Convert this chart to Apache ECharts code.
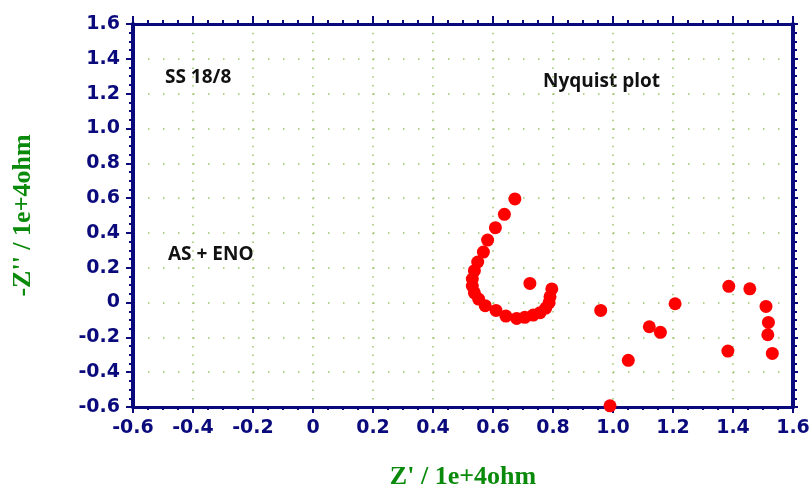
<!DOCTYPE html>
<html>
<head>
<meta charset="utf-8">
<script src="https://cdn.jsdelivr.net/npm/echarts@6/dist/echarts.min.js"></script>
<style>
  html, body { margin: 0; padding: 0; background: #fff; }
  #chart { width: 812px; height: 487px; }
</style>
</head>
<body>
<div id="chart"></div>
<script>
// impedance points, Z' and -Z'' in 1e+4 ohm
var zReal = [0.673, 0.638, 0.608, 0.582, 0.568, 0.549, 0.538, 0.531, 0.531, 0.538,
  0.552, 0.574, 0.61, 0.643, 0.679, 0.706, 0.734, 0.757, 0.776, 0.787,
  0.79, 0.796, 0.723,
  0.959, 0.99, 1.051, 1.121, 1.158, 1.207, 1.386, 1.456, 1.51, 1.518, 1.516, 1.383, 1.531]
var zImag = [0.595, 0.507, 0.43, 0.359, 0.29, 0.233, 0.183, 0.135, 0.095, 0.056,
  0.02, -0.018, -0.045, -0.078, -0.091, -0.085, -0.072, -0.058, -0.032, -0.001,
  0.033, 0.078, 0.11,
  -0.045, -0.593, -0.332, -0.139, -0.171, -0.007, 0.093, 0.079, -0.022, -0.114, -0.185, -0.279, -0.292]

var xTicks = [-0.6, -0.4, -0.2, 0, 0.2, 0.4, 0.6, 0.8, 1.0, 1.2, 1.4, 1.6]
var yTicks = [-0.6, -0.4, -0.2, 0, 0.2, 0.4, 0.6, 0.8, 1.0, 1.2, 1.4, 1.6]

var notes = ['SS 18/8', 'Nyquist plot', 'AS + ENO']

var navy = '#0a0a7c'
var green = '#0a8a0a'
var dotColor = '#9cc46a'

function tickText (v) {
  return Math.abs(v) < 1e-9 ? '0' : v.toFixed(1)
}

var labelFont = {
  fontFamily: 'DejaVu Sans',
  fontWeight: 'bold',
  fontSize: 19,
  color: navy
}

var chart = echarts.init(document.getElementById('chart'))

chart.setOption({
  animation: false,
  grid: {
    left: 133,
    top: 24,
    right: 19,
    bottom: 80,
    containLabel: false,
    outerBoundsMode: 'none'
  },
  xAxis: [
    {
      type: 'value',
      position: 'bottom',
      min: xTicks[0],
      max: xTicks[xTicks.length - 1],
      interval: 0.2,
      name: "Z' / 1e+4ohm",
      nameLocation: 'middle',
      nameGap: 57,
      nameTextStyle: {
        fontFamily: 'Liberation Serif',
        fontWeight: 'bold',
        fontSize: 26,
        color: green
      },
      axisLine: { show: true, onZero: false, lineStyle: { color: navy, width: 3 } },
      axisTick: { show: true, length: 6, lineStyle: { color: navy, width: 2 } },
      minorTick: { show: true, splitNumber: 4, length: 3, lineStyle: { color: navy, width: 2 } },
      axisLabel: Object.assign({ margin: 12, formatter: tickText }, labelFont),
      splitLine: {
        show: true,
        lineStyle: { color: dotColor, width: 1.5, type: [1.5, 7.2] }
      }
    },
    {
      type: 'value',
      position: 'top',
      min: xTicks[0],
      max: xTicks[xTicks.length - 1],
      interval: 0.2,
      axisLine: { show: true, onZero: false, lineStyle: { color: navy, width: 3 } },
      axisTick: { show: true, length: 8, lineStyle: { color: navy, width: 2 } },
      minorTick: { show: true, splitNumber: 4, length: 4, lineStyle: { color: navy, width: 2 } },
      axisLabel: { show: false },
      splitLine: { show: false }
    }
  ],
  yAxis: [
    {
      type: 'value',
      position: 'left',
      min: yTicks[0],
      max: yTicks[yTicks.length - 1],
      interval: 0.2,
      name: "-Z'' / 1e+4ohm",
      nameLocation: 'middle',
      nameRotate: 90,
      nameGap: 97,
      nameTextStyle: {
        fontFamily: 'Liberation Serif',
        fontWeight: 'bold',
        fontSize: 26,
        color: green
      },
      axisLine: { show: true, onZero: false, lineStyle: { color: navy, width: 4 } },
      axisTick: { show: true, length: 7, lineStyle: { color: navy, width: 2 } },
      minorTick: { show: true, splitNumber: 4, length: 4, lineStyle: { color: navy, width: 2 } },
      axisLabel: Object.assign({ margin: 13, formatter: tickText }, labelFont),
      splitLine: {
        show: true,
        lineStyle: { color: dotColor, width: 1.5, type: [1.5, 13.5] }
      }
    },
    {
      type: 'value',
      position: 'right',
      min: yTicks[0],
      max: yTicks[yTicks.length - 1],
      interval: 0.2,
      axisLine: { show: true, onZero: false, lineStyle: { color: navy, width: 4 } },
      axisTick: { show: true, length: 5, lineStyle: { color: navy, width: 2 } },
      minorTick: { show: true, splitNumber: 4, length: 4, lineStyle: { color: navy, width: 2 } },
      axisLabel: { show: false },
      splitLine: { show: false }
    }
  ],
  graphic: [
    {
      type: 'text',
      left: 165,
      top: 68,
      style: { text: notes[0], fontFamily: 'Open Sans', fontWeight: 'bold', fontSize: 19, fill: '#111' }
    },
    {
      type: 'text',
      left: 543,
      top: 72,
      style: { text: notes[1], fontFamily: 'Open Sans', fontWeight: 'bold', fontSize: 19, fill: '#111' }
    },
    {
      type: 'text',
      left: 168,
      top: 245,
      style: { text: notes[2], fontFamily: 'Open Sans', fontWeight: 'bold', fontSize: 19, fill: '#111' }
    }
  ],
  series: [
    {
      type: 'scatter',
      xAxisIndex: 0,
      yAxisIndex: 0,
      symbol: 'circle',
      symbolSize: 13,
      itemStyle: { color: '#ff0000', opacity: 1 },
      data: zReal.map(function (x, i) { return [x, zImag[i]] })
    }
  ]
})
</script>
</body>
</html>
